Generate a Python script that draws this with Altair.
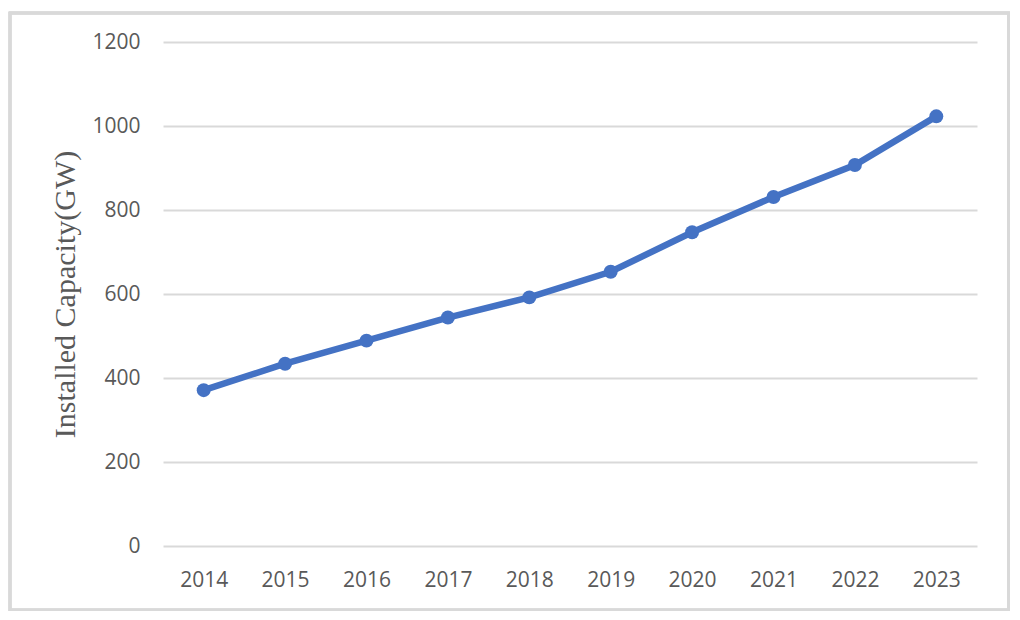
import altair as alt
import pandas as pd

years = ["2014", "2015", "2016", "2017", "2018", "2019", "2020", "2021", "2022", "2023"]
capacity = [371, 434, 489, 544, 592, 653, 747, 831, 907, 1023]

df = pd.DataFrame({"year": years, "capacity": capacity})

W, H = 814, 504
PL, PT, PR, PB = 155, 34, 33, 65

x_enc = alt.X(
    "year:O",
    sort=years,
    scale=alt.Scale(type="point", padding=0.5),
    axis=alt.Axis(
        title=None, labelAngle=0, domain=False, ticks=False, grid=False,
        labelFont="Open Sans", labelFontSize=21, labelColor="#595959",
        labelBaseline="alphabetic", labelPadding=40,
    ),
)
y_enc = alt.Y(
    "capacity:Q",
    scale=alt.Scale(domain=[0, 1200]),
    axis=alt.Axis(
        values=[0, 200, 400, 600, 800, 1000, 1200],
        format="d",
        title="Installed Capacity(GW)",
        titleFont="Liberation Serif", titleFontSize=30, titleFontWeight="normal",
        titleColor="#595959", titleAngle=-90, titleX=-98, titleY=252,
        titleAlign="center", titleBaseline="middle",
        domain=False, ticks=False, grid=True, gridColor="#d9d9d9", gridWidth=2,
        labelFont="Open Sans", labelFontSize=21, labelColor="#595959",
        labelPadding=23,
    ),
)

line = alt.Chart(df).mark_line(color="#4472C4", strokeWidth=6.5).encode(x=x_enc, y=y_enc)
pts = alt.Chart(df).mark_circle(color="#4472C4", size=195, opacity=1).encode(x=x_enc, y=y_enc)

border = alt.Chart(df).mark_rect(
    fill=None, stroke="#d9d9d9", strokeWidth=2.5, filled=False
).encode(
    x=alt.value(-153), x2=alt.value(845.5),
    y=alt.value(-29), y2=alt.value(568),
)

chart = alt.layer(border, line, pts).properties(
    width=W, height=H,
    autosize=alt.AutoSizeParams(type="none"),
    padding={"left": PL, "top": PT, "right": PR, "bottom": PB},
    background="white",
).configure_view(stroke=None)

chart.save("out.html", embed_options={"renderer": "svg", "actions": False})
